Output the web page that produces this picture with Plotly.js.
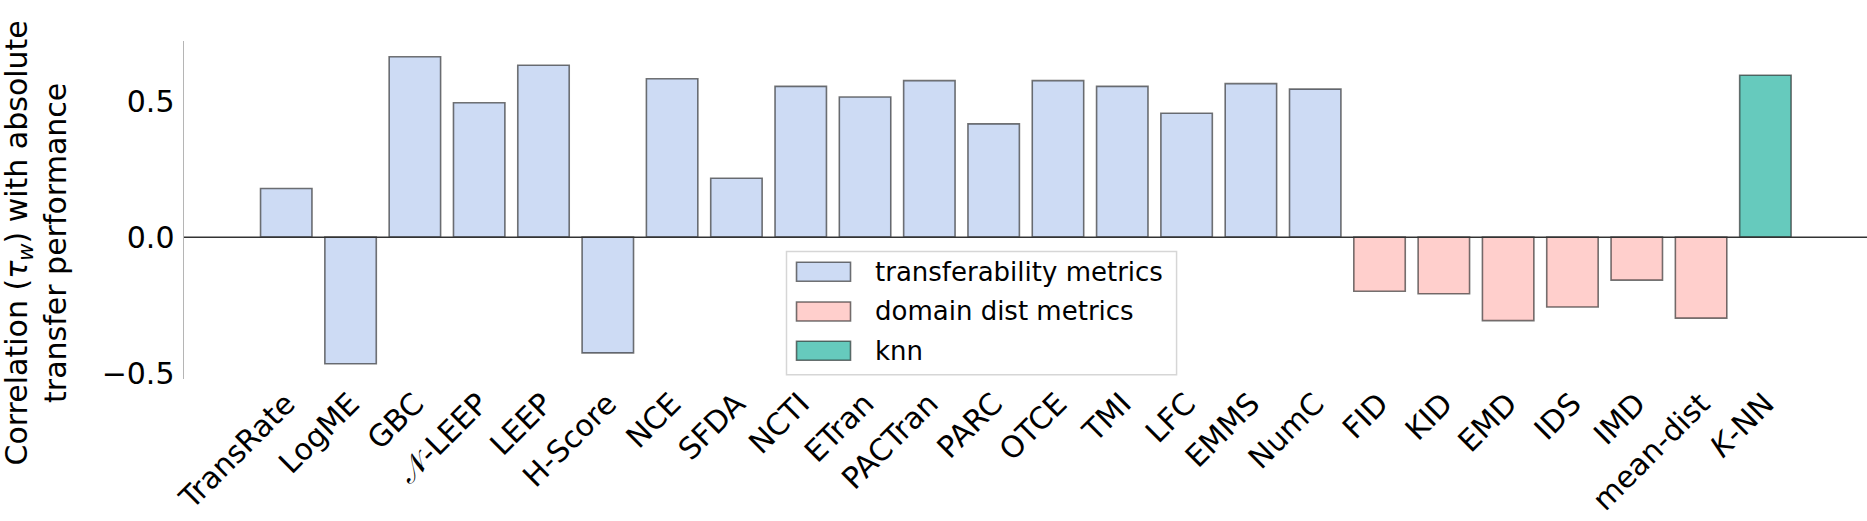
<!DOCTYPE html>
<html>
<head>
<meta charset="utf-8">
<script src="https://cdn.plot.ly/plotly-3.0.1.min.js"></script>
<style>html,body{margin:0;padding:0;background:#fff;}#chart{width:1867px;height:521px;}</style>
</head>
<body>
<div id="chart"></div>
<script>
// ---- data ----
const transferLabels = ['TransRate','LogME','GBC','\uD835\uDCA9-LEEP','LEEP','H-Score','NCE','SFDA','NCTI','ETran','PACTran','PARC','OTCE','TMI','LFC','EMMS','NumC'];
const transferValues = [0.179,-0.466,0.664,0.495,0.633,-0.426,0.583,0.217,0.555,0.516,0.576,0.417,0.576,0.555,0.456,0.565,0.545];
const domainLabels = ['FID','KID','EMD','IDS','IMD','mean-dist'];
const domainValues = [-0.199,-0.208,-0.307,-0.257,-0.158,-0.298];
const knnLabels = ['<i>K</i>-NN'];
const knnValues = [0.596];
const seriesNames = ['transferability metrics','domain dist metrics','knn'];
const yTickVals = [-0.5, 0, 0.5];
const yTickText = ['\u22120.5','0.0','0.5'];
const yTitle = 'Correlation (<i>\u03C4<sub>w</sub></i>) with absolute<br>transfer performance';

// ---- layout constants ----
const W = 1867, H = 521;
const L = 184.3, R = 0, T = 41, B = 141.7;
const PW = W - L - R, PH = H - T - B;
const px2x = p => (p - L) / PW;
const py2y = p => (H - B - p) / PH;

const colors = ['#cddbf4', '#ffcfcc', '#66cabd'];
const edge = 'rgba(30,30,30,0.62)';
const font = 'DejaVu Sans, sans-serif';

const allLabels = transferLabels.concat(domainLabels, knnLabels);
const idx = (start, n) => Array.from({length: n}, (_, i) => start + i);

const groups = [
  {labels: transferLabels, values: transferValues},
  {labels: domainLabels, values: domainValues},
  {labels: knnLabels, values: knnValues}
];
let start = 0;
const traces = groups.map((g, k) => {
  const tr = {
    type: 'bar',
    name: seriesNames[k],
    x: idx(start, g.labels.length),
    y: g.values,
    width: 0.8,
    marker: {color: colors[k], line: {color: edge, width: 1.6}},
    showlegend: false,
    hoverinfo: 'x+y'
  };
  start += g.labels.length;
  return tr;
});

// custom legend (matplotlib-style large swatches)
const shapes = [];
const annotations = [];
shapes.push({type: 'line', xref: 'paper', yref: 'y', x0: 0, x1: 1, y0: 0, y1: 0,
  line: {color: '#333333', width: 1.5}, layer: 'above'});
shapes.push({type: 'rect', xref: 'paper', yref: 'paper',
  x0: px2x(786.7), x1: px2x(1176.7), y0: py2y(375), y1: py2y(251.7),
  fillcolor: 'rgba(255,255,255,0.8)', line: {color: '#d6d6d6', width: 1.5}, layer: 'above'});
const rowY = [272, 311.7, 351];
seriesNames.forEach((nm, k) => {
  shapes.push({type: 'rect', xref: 'paper', yref: 'paper',
    x0: px2x(796.7), x1: px2x(850.7), y0: py2y(rowY[k] + 9.5), y1: py2y(rowY[k] - 9.5),
    fillcolor: colors[k], line: {color: edge, width: 1.6}, layer: 'above'});
  annotations.push({xref: 'paper', yref: 'paper', x: px2x(873), y: py2y(rowY[k]),
    xanchor: 'left', yanchor: 'middle', showarrow: false, text: nm,
    font: {family: font, size: 26, color: '#000'}});
});
annotations.push({xref: 'paper', yref: 'paper', x: px2x(36), y: py2y(243),
  xanchor: 'center', yanchor: 'middle', showarrow: false, textangle: -90,
  text: yTitle, font: {family: font, size: 30, color: '#000'}});

const layout = {
  width: W, height: H,
  margin: {l: L, r: R, t: T, b: B, pad: 0},
  paper_bgcolor: '#fff', plot_bgcolor: '#fff',
  font: {family: font, color: '#000'},
  barmode: 'overlay',
  xaxis: {
    range: [-1.59, 24.58],
    tickmode: 'array', tickvals: idx(0, allLabels.length), ticktext: allLabels,
    tickangle: -45, tickfont: {family: font, size: 30, color: '#000'},
    showgrid: false, zeroline: false, showline: false, ticks: ''
  },
  yaxis: {
    range: [-0.522, 0.722],
    tickmode: 'array', tickvals: yTickVals, ticktext: yTickText,
    tickfont: {family: font, size: 30, color: '#000'},
    showgrid: false, zeroline: false, showline: true, linecolor: '#b5b5b5', linewidth: 1.5,
    ticks: '', ticklabelstandoff: 2
  },
  shapes: shapes,
  annotations: annotations,
  showlegend: false
};

Plotly.newPlot('chart', traces, layout, {displayModeBar: false, staticPlot: true});
</script>
</body>
</html>
